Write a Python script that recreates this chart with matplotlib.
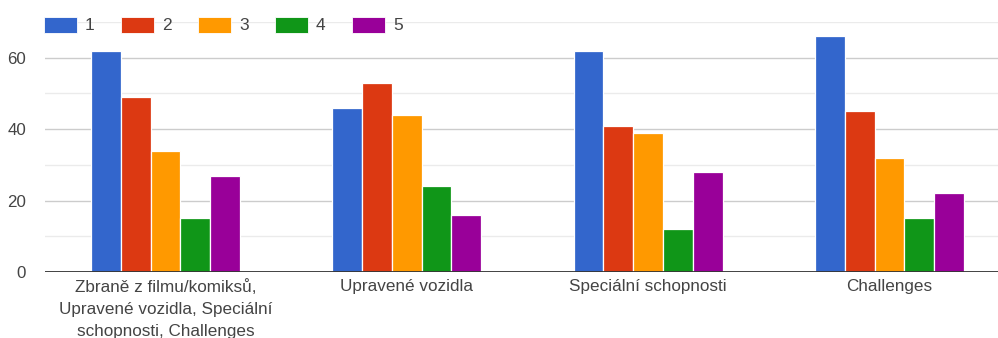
import matplotlib
matplotlib.use("Agg")
import matplotlib.pyplot as plt
from matplotlib.patches import Rectangle
import numpy as np

plt.rcParams["font.family"] = ["Liberation Sans", "DejaVu Sans"]

categories = [
    "Zbraně z filmu/komiksů,\nUpravené vozidla, Speciální\nschopnosti, Challenges",
    "Upravené vozidla",
    "Speciální schopnosti",
    "Challenges",
]
series_labels = ["1", "2", "3", "4", "5"]
series_values = [
    [62, 46, 62, 66],  # 1
    [49, 53, 41, 45],  # 2
    [34, 44, 39, 32],  # 3
    [15, 24, 12, 15],  # 4
    [27, 16, 28, 22],  # 5
]
colors = ["#3366CC", "#DC3912", "#FF9900", "#109618", "#990099"]
y_major = [0, 20, 40, 60]
y_minor = [10, 30, 50, 70]

W, H = 998, 338
fig = plt.figure(figsize=(W / 100, H / 100), dpi=100)
# plot area continues slightly past the right edge of the canvas
ax = fig.add_axes([44.8 / W, 66 / H, 965.3 / W, 250 / H])

text_color = "#444444"
x = np.arange(len(categories))
n = len(series_labels)
bar_w = 0.1235
for i, (vals, col) in enumerate(zip(series_values, colors)):
    offs = (i - (n - 1) / 2) * bar_w
    ax.bar(x + offs, vals, width=bar_w, color=col, edgecolor="white",
           linewidth=0.9, zorder=3)

ax.set_xlim(-0.5, len(categories) - 0.5)
ax.set_ylim(0, 70)

for v in y_minor:
    ax.axhline(v, color="#EBEBEB", linewidth=1.0, zorder=1)
for v in y_major[1:]:
    ax.axhline(v, color="#CCCCCC", linewidth=1.0, zorder=1)
ax.axhline(0, color="#333333", linewidth=1.3, zorder=4)

ax.set_yticks(y_major)
ax.set_yticklabels([str(v) for v in y_major])
ax.set_xticks(x)
ax.set_xticklabels(categories, linespacing=1.58)
ax.tick_params(axis="y", length=0, pad=13.5, labelsize=12.2, labelcolor=text_color)
ax.tick_params(axis="x", length=0, pad=5, labelsize=12.3, labelcolor=text_color)
for s in ax.spines.values():
    s.set_visible(False)

# legend row along the top
for i, (lab, col) in enumerate(zip(series_labels, colors)):
    px = 44 + i * 77
    fig.add_artist(Rectangle((px / W, 1 - 33 / H), 33 / W, 16 / H,
                             transform=fig.transFigure, facecolor=col,
                             edgecolor="white", linewidth=0.6, zorder=5))
    fig.text((px + 41) / W, 1 - 25.5 / H, lab, ha="left", va="center",
             fontsize=12.5, color=text_color, zorder=5)

fig.savefig("out.png", dpi=100, facecolor="white")
